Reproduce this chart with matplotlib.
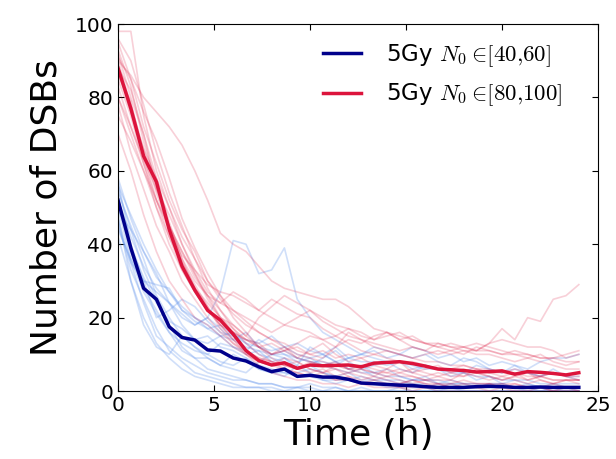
import numpy as np
import matplotlib
matplotlib.use('Agg')
import matplotlib.pyplot as plt

plt.rcParams['mathtext.fontset'] = 'cm'
plt.rcParams['font.family'] = ['DejaVu Sans']

# time grid (h), one sample every 40 min
time = np.arange(37) * 2.0 / 3.0

# mean curves
mean_low = [52, 39, 28, 25, 17.5, 14.6, 13.9, 11.2, 10.9, 9, 8.2, 6.6, 5.3, 6.0, 4.0, 4.3,
            3.8, 3.8, 3.2, 2.2, 2.0, 1.8, 1.6, 1.5, 1.2, 1.0, 1.0, 1.0, 1.2, 1.3, 1.2, 1.0,
            1.0, 1.1, 1.0, 1.0, 1.0]
mean_high = [88, 77, 64, 57, 44, 34, 27.5, 22, 19.3, 15.5, 11, 8.3, 7.1, 7.7, 6.2, 7.1,
             6.9, 7.0, 7.1, 6.6, 7.6, 7.8, 8.0, 7.5, 6.8, 6.0, 5.8, 5.6, 5.2, 5.3, 5.5, 4.6,
             5.3, 5.1, 4.8, 4.4, 5.0]

# individual cells, N0 in [40,60]
cells_low = [
    [58,47,38,31,27,22,19,17,15,16, 13,12,11,12,10,9,10,8,9,8, 8,7,8,6,7,6,6,5,7,6, 5,6,5,4,5,4,4],
    [55,44,33,25,18,12,9,6,5,4, 3,2,2,1,1,1,0,1,0,0, 0,0,0,0,0,0,0,0,0,0, 0,0,0,0,0,0,0],
    [53,38,28,22,16,13,11,10,8,7, 9,6,5,5,4,4,3,3,3,2, 2,2,2,1,1,1,1,1,1,1, 1,1,0,1,0,0,0],
    [50,36,30,27,24,21,18,20,17,14, 16,12,10,11,9,8,7,8,6,5, 5,4,4,3,3,3,2,2,2,2, 2,1,1,1,1,1,1],
    [48,30,20,13,9,6,4,3,2,1, 1,1,0,0,0,0,0,0,0,0, 0,0,0,0,0,0,0,0,0,0, 0,0,0,0,0,0,0],
    [52,42,34,28,24,20,18,20,27,41, 40,32,33,39,25,20,16,14,12,10, 9,8,8,7,6,6,5,5,4,4, 3,3,3,2,2,2,2],
    [45,35,30,29,28,22,20,17,18,15, 14,13,15,12,13,11,10,12,9,10, 11,9,10,12,11,9,10,8,9,7, 8,7,6,8,9,9,10],
    [57,40,30,20,22,25,23,19,16,15, 13,10,9,8,6,7,5,4,5,3, 3,2,2,2,1,2,1,1,1,2, 1,1,1,0,1,1,1],
    [42,30,18,12,10,15,12,9,7,10, 8,6,5,4,7,5,3,2,3,2, 2,1,1,1,1,0,1,0,0,0, 0,0,0,0,0,0,0],
    [49,44,38,32,24,18,14,13,15,12, 10,11,8,9,7,12,10,8,6,7, 5,6,4,3,4,2,3,2,2,1, 2,1,1,1,0,1,0],
    [46,33,25,17,11,8,5,4,3,2, 1,1,1,0,1,0,0,0,0,0, 0,0,0,0,0,0,0,0,0,0, 0,0,0,0,0,0,0],
    [54,45,36,26,20,15,12,10,13,12, 11,14,12,10,8,9,7,6,5,6, 4,3,3,2,2,1,2,1,1,1, 1,1,1,1,1,1,1],
    [51,39,31,24,19,17,14,15,12,11, 9,7,6,5,5,6,5,4,3,4, 3,3,2,3,3,2,2,2,1,2, 2,1,2,1,1,1,1],
    [44,36,27,21,16,11,9,9,7,6, 5,8,10,9,6,7,9,11,8,6, 7,8,6,5,7,6,4,5,3,4, 2,3,2,1,2,1,1],
    [56,48,40,33,27,23,20,18,15,14, 12,11,10,10,9,8,8,7,9,10, 12,11,10,9,10,8,7,9,8,6, 5,7,5,4,6,4,3],
    [47,35,24,15,12,9,7,5,4,3, 3,2,2,1,1,2,1,1,0,1, 0,0,1,0,0,0,0,0,0,0, 0,0,0,0,0,0,0],
]

# individual cells, N0 in [80,100]
cells_high = [
    [98,98,75,60,50,40,32,25,20,18, 15,12,10,11,9,8,7,8,6,7, 6,5,6,5,4,5,4,4,5,4, 3,4,3,4,3,3,3],
    [90,86,80,76,72,67,60,52,43,40, 38,34,30,28,27,26,25,25,23,20, 17,16,15,14,13,13,12,12,11,11, 10,10,10,9,9,8,8],
    [80,70,60,50,40,33,27,22,18,16, 14,12,13,11,12,10,11,9,10,9, 10,11,10,9,10,11,10,11,11,13, 17,14,20,19,25,26,29],
    [85,75,62,52,42,33,27,22,18,14, 11,9,8,7,6,5,6,4,5,4, 3,4,3,2,3,2,2,3,2,2, 1,2,1,1,2,1,1],
    [92,80,70,58,46,36,28,24,20,16, 14,12,10,11,13,15,14,12,16,14, 13,12,11,12,11,10,11,10,12,11, 10,11,10,9,9,10,11],
    [70,60,48,38,30,25,20,18,15,12, 10,8,7,6,5,4,4,3,3,2, 2,2,1,1,1,2,1,1,1,0, 1,0,0,1,0,0,0],
    [95,85,72,62,52,44,38,30,25,21, 18,16,14,13,11,10,9,12,14,13, 15,16,14,15,13,12,13,12,11,13, 14,13,12,12,11,9,10],
    [88,82,70,55,45,38,32,26,22,18, 15,20,23,26,24,22,20,18,17,15, 14,16,14,12,11,13,12,11,10,10, 9,8,9,10,8,7,8],
    [78,65,55,45,38,30,25,20,16,13, 11,9,8,7,6,8,7,6,5,6, 5,4,5,6,5,4,5,6,5,4, 3,4,5,3,2,3,2],
    [90,78,66,54,44,35,29,23,18,14, 10,7,5,4,3,3,2,2,1,2, 1,1,1,0,1,0,0,0,0,0, 0,0,0,0,0,0,0],
    [83,72,63,55,48,40,33,27,24,22, 20,18,16,18,20,22,19,17,15,14, 12,11,10,9,8,8,7,7,6,6, 5,5,4,4,3,3,3],
    [96,90,78,65,54,45,36,28,22,17, 13,10,8,6,5,4,5,3,4,2, 3,2,2,3,2,1,2,1,1,2, 1,1,1,1,0,1,1],
    [75,68,60,52,45,38,31,26,20,17, 14,13,10,12,9,11,13,10,8,9, 7,6,8,5,6,7,5,4,6,5, 4,5,3,4,5,4,4],
    [87,76,66,58,50,42,36,30,26,22, 19,16,14,12,10,9,8,7,6,6, 5,5,4,4,3,3,3,2,2,2, 2,2,1,1,1,1,1],
    [93,83,68,56,45,36,30,26,24,27, 25,22,20,18,17,16,14,15,17,16, 14,15,16,14,13,12,11,12,13,12, 11,10,9,8,7,6,6],
    [80,72,62,50,42,35,28,23,17,13, 10,8,7,9,8,6,5,7,6,5, 4,6,5,4,3,4,3,5,4,3, 4,3,2,3,2,3,3],
    [91,85,76,68,58,47,39,32,26,20, 16,12,9,7,8,6,5,6,4,3, 4,3,2,3,2,2,1,2,1,1, 2,1,1,1,1,1,0],
    [86,79,64,52,44,37,33,29,27,26, 24,22,25,23,21,20,17,15,13,11, 10,9,8,8,7,6,6,7,6,5, 5,6,5,4,5,4,3],
]

label_low = r'5Gy $N_0 \in\![40{,}60]$'
label_high = r'5Gy $N_0 \in\![80{,}100]$'

fig = plt.figure(figsize=(6.16, 4.59), dpi=100)
ax = fig.add_axes([0.1916, 0.148, 0.7792, 0.7997])

for c in cells_low:
    ax.plot(time[:len(c)], c, color='cornflowerblue', alpha=0.3, lw=1.2)
for c in cells_high:
    ax.plot(time[:len(c)], c, color='crimson', alpha=0.2, lw=1.2)

ax.plot(time, mean_low, color='darkblue', lw=2.5, label=label_low)
ax.plot(time, mean_high, color='crimson', lw=2.5, label=label_high)

ax.set_xlim(0, 25)
ax.set_ylim(0, 100)
ax.set_xticks([0, 5, 10, 15, 20, 25])
ax.set_yticks([0, 20, 40, 60, 80, 100])
ax.tick_params(direction='in', top=True, right=True, length=4.5, labelsize=14.5)
ax.set_xlabel('Time (h)', fontsize=26, labelpad=2)
ax.set_ylabel('Number of DSBs', fontsize=26, labelpad=8)

ax.legend(loc='upper right', bbox_to_anchor=(0.946, 0.975), frameon=False, fontsize=16.5,
          handlelength=1.65, handletextpad=1.1, labelspacing=0.55, borderaxespad=0)

fig.savefig('out.png', dpi=100)
